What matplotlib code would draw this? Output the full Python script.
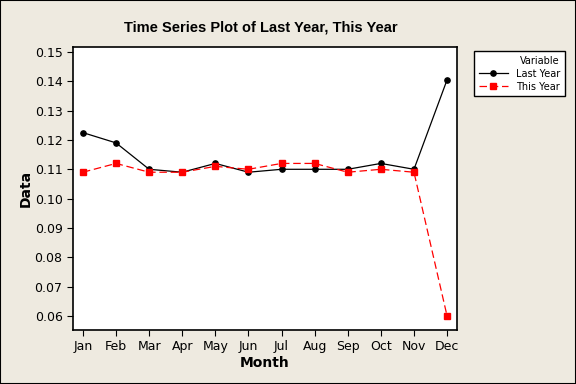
import matplotlib
matplotlib.use("Agg")
import matplotlib.pyplot as plt
from matplotlib.patches import Rectangle

months = ["Jan", "Feb", "Mar", "Apr", "May", "Jun", "Jul", "Aug", "Sep", "Oct", "Nov", "Dec"]
last_year = [0.1225, 0.119, 0.110, 0.109, 0.112, 0.109, 0.110, 0.110, 0.110, 0.112, 0.110, 0.1405]
this_year = [0.109, 0.112, 0.109, 0.109, 0.111, 0.110, 0.112, 0.112, 0.109, 0.110, 0.109, 0.060]
yticks = [0.06, 0.07, 0.08, 0.09, 0.10, 0.11, 0.12, 0.13, 0.14, 0.15]

bg = "#EEEAE0"
fig = plt.figure(figsize=(5.76, 3.84), dpi=100, facecolor=bg)
fig.patches.append(Rectangle((0, 0), 1, 1, transform=fig.transFigure, fill=False,
                             edgecolor="black", linewidth=1.5))
ax = fig.add_axes([73/576, 1-330/384, 384/576, 283/384])
x = list(range(1, 13))
ax.plot(x, last_year, color="black", marker="o", markersize=3.8, linewidth=0.9, label="Last Year")
ax.plot(x, this_year, color="red", marker="s", markersize=4, linewidth=0.9,
        linestyle=(0, (6, 3)), label="This Year")
ax.set_xlim(0.7, 12.3)
ax.set_ylim(0.0552, 0.1517)
ax.set_xticks(x)
ax.set_xticklabels(months)
ax.set_yticks(yticks)
ax.set_yticklabels([f"{v:.2f}" for v in yticks])
ax.tick_params(labelsize=9, length=4, color="black", direction="out")
for s in ax.spines.values():
    s.set_linewidth(1.2)
ax.set_xlabel("Month", fontsize=10, fontweight="bold", labelpad=2)
ax.set_ylabel("Data", fontsize=10, fontweight="bold", labelpad=1)
fig.text(261/576, 1-28/384, "Time Series Plot of Last Year, This Year", ha="center", va="center",
         fontsize=10.5, fontweight="bold", family="Liberation Sans")

leg = fig.legend(loc="upper left", bbox_to_anchor=(469/576, 1-46/384), title="Variable",
                 fontsize=7, title_fontsize=7, frameon=True, fancybox=False, numpoints=1,
                 handlelength=3, borderpad=0.5, labelspacing=0.3, edgecolor="black",
                 facecolor="white", framealpha=1)
leg.get_frame().set_linewidth(1.0)
leg._legend_box.align = "right"
fig.savefig("out.png", dpi=100, facecolor=bg)
